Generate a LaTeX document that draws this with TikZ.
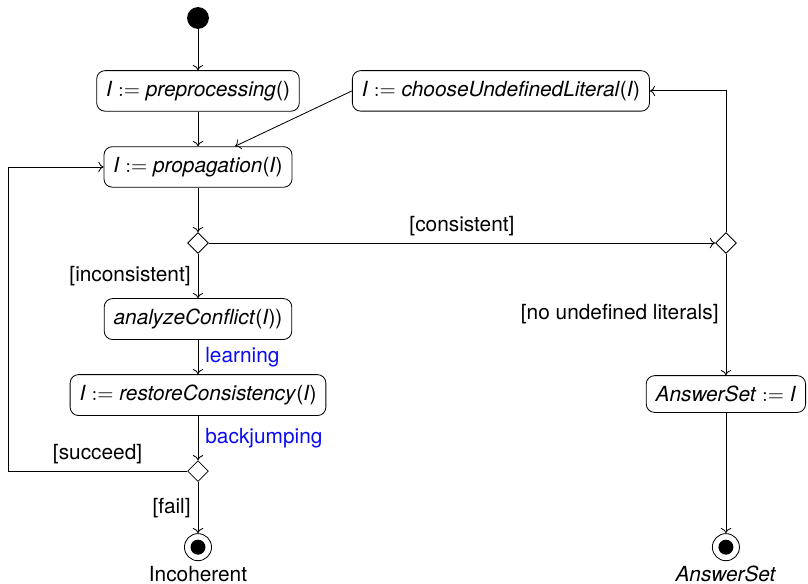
\documentclass[tikz,border=0pt]{standalone}
\usepackage{fontspec}
\setmainfont{TeX Gyre Heros}
\usepackage{tikz}
\usetikzlibrary{arrows.meta,positioning,shapes.geometric}
\definecolor{guardblue}{RGB}{10,10,245}
\newcommand{\assignop}{$\;{:=}\;$}

\begin{document}
\begin{tikzpicture}[
        on grid,
        node distance=36.5pt and 36.5pt,
        action/.style={draw, rounded corners=4pt, align=center, inner xsep=4.5pt, inner ysep=5pt, minimum height=15pt},
        initial/.style={circle, fill, inner sep=0pt, minimum size=10.5pt},
        final/.style={circle, draw, inner sep=0pt, minimum size=13pt, path picture={\fill (path picture bounding box.center) circle (3.6pt);}},
        decision/.style={diamond, draw, inner sep=0pt, minimum size=10pt},
        note/.style={text=guardblue},
        arr/.style={-{To[length=2.5pt,width=5pt]}}
    ]
    \useasboundingbox (-95.04pt,8.64pt) rectangle (292.8pt,-271.68pt);

    \node[initial] (start) {};
    \node[action, below=35pt of start] (preproc) {\textit{I}\assignop\textit{preprocessing}()};
    \node[action, right=145.4pt of preproc] (choose) {\textit{I}\assignop\textit{chooseUndefinedLiteral}(\textit{I})};
    \node[action, below=of preproc] (propag) {\textit{I}\assignop\textit{propagation}(\textit{I})};
    \node[decision, below=of propag] (splitcons) {};
    \node[decision, right=253.4pt of splitcons] (splitlits) {};
    \node[action, below=of splitcons] (analyze) {\textit{analyzeConflict}(\textit{I}))};
    \node[action, below=of analyze] (restore) {\textit{I}\assignop\textit{restoreConsistency}(\textit{I})};
    \node[decision, below=of restore] (splitback) {};
    \node[final, below=of splitback, label={[label distance=-1pt]below:Incoherent}] (incoh) {};
    \node[action, below=72.5pt of splitlits] (answer) {\textit{AnswerSet}\assignop\textit{I}};
    \node[final, label={[label distance=-1pt]below:\textit{AnswerSet}}] (accept) at (splitlits |- incoh) {};

    \draw[arr] (start) -- (preproc);
    \draw[arr] (preproc) -- (propag);
    \draw[arr] (choose.west) -- ([xshift=17.8pt]propag.north);
    \draw[arr] (propag) -- (splitcons);
    \draw[arr] (splitcons) -- node[above] {[consistent]} (splitlits);
    \draw[arr] (splitlits) |- (choose);
    \draw[arr] (splitlits) -- node[left] {[no undefined literals]} (answer);
    \draw[arr] (answer) -- (accept);
    \draw[arr] (splitcons) -- node[left] {[inconsistent]} (analyze);
    \draw[arr] (analyze) -- node[note, right] {learning} (restore);
    \draw[arr] (restore) -- node[note, right] {backjumping} (splitback);
    \draw[arr] (splitback.west) -- node[above] {[succeed]} ++(-86pt,0) |- (propag.west);
    \draw[arr] (splitback) -- node[left] {[fail]} (incoh);
    \end{tikzpicture}
\end{document}
